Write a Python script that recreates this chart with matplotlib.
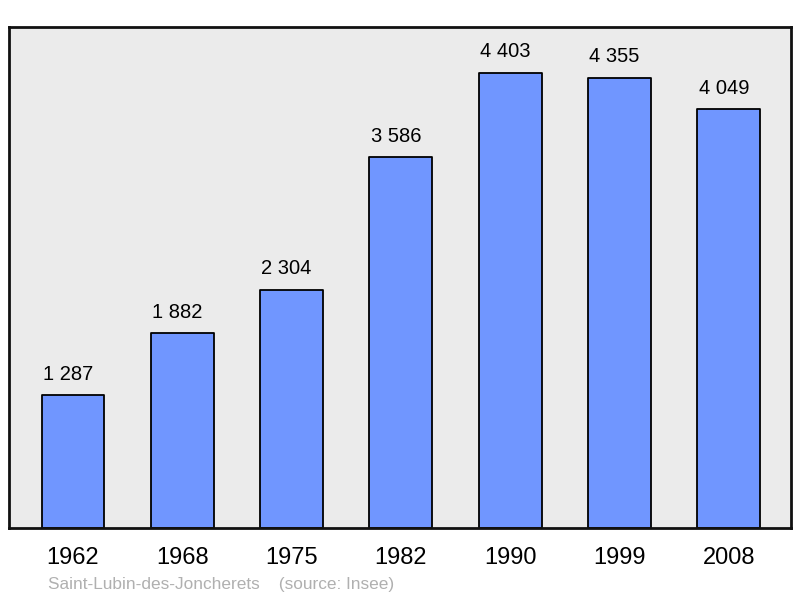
import numpy as np
import matplotlib.pyplot as plt

plt.rcParams['font.family'] = ['Liberation Sans', 'DejaVu Sans']

years = ['1962', '1968', '1975', '1982', '1990', '1999', '2008']
population = [1287, 1882, 2304, 3586, 4403, 4355, 4049]
labels = ['1 287', '1 882', '2 304', '3 586', '4 403', '4 355', '4 049']

fig = plt.figure(figsize=(8, 5.98), dpi=100)
ax = fig.add_axes([9/800, 1 - 528/598, 782/800, 501/598])
ax.set_facecolor('#ebebeb')

x = np.arange(len(years))
ax.bar(x, population, width=0.575, color='#7096ff', edgecolor='black',
       linewidth=1.3, joinstyle='round')
# value labels sit a little left of the bar centre, as in the original
for xi, v, s in zip(x, population, labels):
    ax.annotate(s, (xi, v), xytext=(-3.5, 15), textcoords='offset points',
                ha='center', va='center', fontsize=14.5)

ax.set_xlim(-0.585, 6.57)
ax.set_ylim(0, max(population) * 1.1)
ax.set_yticks([])
ax.set_xticks(x)
ax.set_xticklabels(years, fontsize=17)
ax.tick_params(axis='x', length=0, pad=13.5)
for sp in ax.spines.values():
    sp.set_linewidth(2)
    sp.set_color('#111111')

fig.text(48/800, 1 - 584/598, 'Saint-Lubin-des-Joncherets    (source: Insee)',
         fontsize=12.4, color='#b0b0b0', va='center', ha='left')

fig.savefig('out.png', dpi=100, facecolor='white')
